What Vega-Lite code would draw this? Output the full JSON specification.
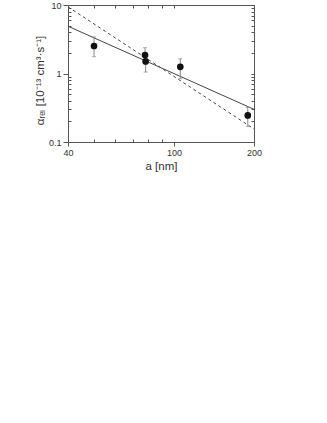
{
  "$schema": "https://vega.github.io/schema/vega-lite/v6.json",
  "autosize": "none",
  "width": 186,
  "height": 137,
  "padding": {"left": 68, "top": 5, "right": 73, "bottom": 281},
  "background": "white",
  "config": {
    "view": {"stroke": "#555", "strokeWidth": 1},
    "font": "Liberation Sans",
    "axis": {"domain": false, "grid": false, "labelFont": "Liberation Sans", "titleFont": "Liberation Sans", "labelColor": "#333", "titleColor": "#333", "tickColor": "#555", "labelFontSize": 9, "titleFontWeight": "normal"}
  },
  "datasets": {
    "pts": [
      {"a": 50.1, "alpha": 2.52, "lo": 1.76, "hi": 3.42},
      {"a": 77.9, "alpha": 1.86, "lo": 1.40, "hi": 2.38},
      {"a": 78.3, "alpha": 1.50, "lo": 1.05, "hi": 1.95},
      {"a": 105.7, "alpha": 1.25, "lo": 0.84, "hi": 1.64},
      {"a": 189.5, "alpha": 0.244, "lo": 0.168, "hi": 0.319}
    ],
    "fits": [
      {"a": 40, "alpha": 4.9, "fit": "solid"},
      {"a": 200, "alpha": 0.30, "fit": "solid"},
      {"a": 40, "alpha": 9.4, "fit": "dashed"},
      {"a": 200, "alpha": 0.155, "fit": "dashed"}
    ]
  },
  "resolve": {"axis": {"x": "independent", "y": "independent"}},
  "layer": [
    {
      "data": {"name": "fits"},
      "transform": [{"filter": "datum.fit == 'solid'"}],
      "mark": {"type": "line", "color": "#444", "strokeWidth": 1, "clip": true},
      "encoding": {
        "x": {"field": "a", "type": "quantitative",
          "scale": {"type": "log", "domain": [40, 200], "nice": false},
          "axis": {"title": "a [nm]", "titleFontSize": 11.5, "titlePadding": 3, "values": [40, 50, 60, 70, 80, 90, 100, 200], "labelExpr": "indexof([40,100,200], datum.value) >= 0 ? datum.label : ''", "format": "~g",
            "tickSize": {"condition": {"test": "indexof([40,100,200], datum.value) >= 0", "value": 4}, "value": -3}, "labelPadding": 2, "labelFlush": false}},
        "y": {"field": "alpha", "type": "quantitative",
          "scale": {"type": "log", "domain": [0.1, 10], "nice": false},
          "axis": {"title": "αᵣₑₗ [10⁻¹³ cm³·s⁻¹]", "titleFontSize": 11.5, "titlePadding": 3, "titleY": 75, "values": [0.1, 0.2, 0.3, 0.4, 0.5, 0.6, 0.7, 0.8, 0.9, 1, 2, 3, 4, 5, 6, 7, 8, 9, 10], "labelExpr": "indexof([0.1,1,10], datum.value) >= 0 ? datum.label : ''", "format": "~g",
            "tickSize": {"condition": {"test": "indexof([0.1,1,10], datum.value) >= 0", "value": 5}, "value": -3}, "labelPadding": 2, "labelFlush": false}}
      }
    },
    {
      "data": {"name": "fits"},
      "transform": [{"filter": "datum.fit == 'dashed'"}],
      "mark": {"type": "line", "color": "#444", "strokeWidth": 1, "strokeDash": [3, 3], "clip": true},
      "encoding": {
        "x": {"field": "a", "type": "quantitative",
          "axis": {"orient": "top", "title": null, "labels": false, "values": [40, 50, 60, 70, 80, 90, 100, 200], "tickSize": -3}},
        "y": {"field": "alpha", "type": "quantitative",
          "axis": {"orient": "right", "title": null, "labels": false, "values": [0.1, 0.2, 0.3, 0.4, 0.5, 0.6, 0.7, 0.8, 0.9, 1, 2, 3, 4, 5, 6, 7, 8, 9, 10], "tickSize": -3}}
      }
    },
    {
      "data": {"name": "pts"},
      "mark": {"type": "errorbar", "ticks": {"size": 4, "color": "#888"}, "rule": {"color": "#888"}},
      "encoding": {
        "x": {"field": "a", "type": "quantitative", "axis": null},
        "y": {"field": "lo", "type": "quantitative", "axis": null},
        "y2": {"field": "hi"}
      }
    },
    {
      "data": {"name": "pts"},
      "mark": {"type": "point", "filled": true, "color": "#111", "opacity": 1, "size": 45},
      "encoding": {
        "x": {"field": "a", "type": "quantitative", "axis": null},
        "y": {"field": "alpha", "type": "quantitative", "axis": null}
      }
    }
  ]
}
